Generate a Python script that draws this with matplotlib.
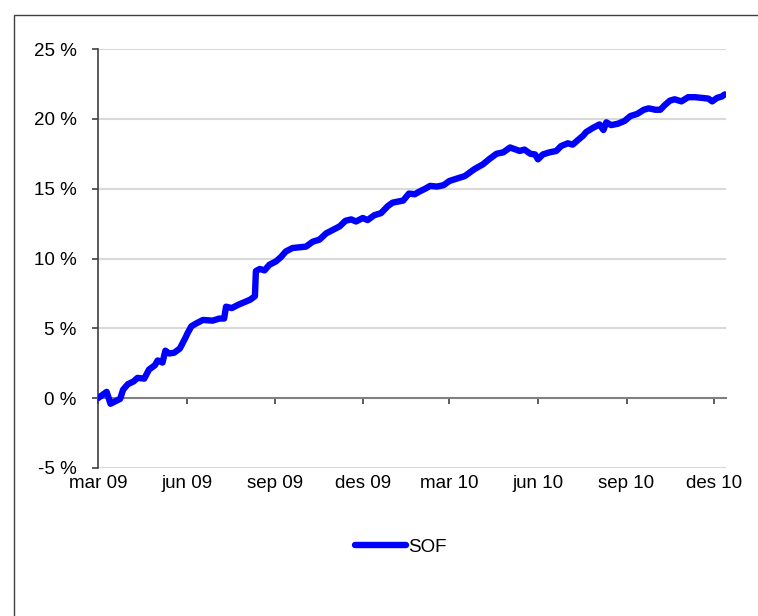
import pandas as pd
import matplotlib
matplotlib.use("Agg")
import matplotlib.pyplot as plt
from matplotlib.patches import Rectangle

plt.rcParams["font.family"] = ["Liberation Sans", "DejaVu Sans"]

# SOF cumulative return (%)
dates = [
    "2009-03-01", "2009-03-10", "2009-03-14", "2009-03-24", "2009-03-27", "2009-04-01",
    "2009-04-07", "2009-04-11", "2009-04-18", "2009-04-23", "2009-04-29", "2009-05-02",
    "2009-05-07", "2009-05-10", "2009-05-14", "2009-05-19", "2009-05-25", "2009-05-31",
    "2009-06-02", "2009-06-06", "2009-06-11", "2009-06-18", "2009-06-28", "2009-07-05",
    "2009-07-10", "2009-07-12", "2009-07-18", "2009-07-25", "2009-08-01", "2009-08-06",
    "2009-08-11", "2009-08-12", "2009-08-16", "2009-08-21", "2009-08-26", "2009-09-02",
    "2009-09-07", "2009-09-12", "2009-09-19", "2009-09-26", "2009-10-03", "2009-10-10",
    "2009-10-17", "2009-10-24", "2009-10-31", "2009-11-07", "2009-11-13", "2009-11-19",
    "2009-11-24", "2009-12-01", "2009-12-06", "2009-12-13", "2009-12-20", "2009-12-27",
    "2010-01-01", "2010-01-12", "2010-01-18", "2010-01-24", "2010-01-29", "2010-02-04",
    "2010-02-09", "2010-02-16", "2010-02-23", "2010-03-01", "2010-03-10", "2010-03-17",
    "2010-03-22", "2010-03-27", "2010-04-05", "2010-04-12", "2010-04-19", "2010-04-26",
    "2010-05-03", "2010-05-07", "2010-05-13", "2010-05-18", "2010-05-24", "2010-05-29",
    "2010-06-01", "2010-06-06", "2010-06-13", "2010-06-20", "2010-06-25", "2010-07-02",
    "2010-07-07", "2010-07-12", "2010-07-18", "2010-07-21", "2010-07-28", "2010-08-04",
    "2010-08-08", "2010-08-11", "2010-08-16", "2010-08-23", "2010-08-30", "2010-09-05",
    "2010-09-12", "2010-09-19", "2010-09-24", "2010-10-01", "2010-10-06", "2010-10-11",
    "2010-10-16", "2010-10-21", "2010-10-28", "2010-11-04", "2010-11-11", "2010-11-18",
    "2010-11-25", "2010-11-29", "2010-12-04", "2010-12-09", "2010-12-12",
]
sof = [
    0.0, 0.45, -0.4, -0.05, 0.6, 1.0,
    1.2, 1.45, 1.4, 2.05, 2.35, 2.7,
    2.55, 3.4, 3.2, 3.25, 3.55, 4.35,
    4.65, 5.15, 5.35, 5.6, 5.55, 5.7,
    5.7, 6.55, 6.45, 6.7, 6.9, 7.05,
    7.3, 9.1, 9.25, 9.15, 9.55, 9.8,
    10.1, 10.5, 10.75, 10.8, 10.85, 11.2,
    11.35, 11.8, 12.05, 12.3, 12.7, 12.8,
    12.65, 12.9, 12.75, 13.1, 13.25, 13.75,
    14.0, 14.15, 14.65, 14.6, 14.8, 15.0,
    15.2, 15.15, 15.25, 15.55, 15.75, 15.9,
    16.15, 16.4, 16.75, 17.15, 17.5, 17.6,
    17.95, 17.85, 17.7, 17.8, 17.5, 17.45,
    17.1, 17.45, 17.6, 17.7, 18.05, 18.25,
    18.15, 18.45, 18.8, 19.05, 19.35, 19.6,
    19.2, 19.75, 19.55, 19.65, 19.85, 20.2,
    20.35, 20.65, 20.75, 20.65, 20.65, 21.0,
    21.3, 21.4, 21.25, 21.55, 21.55, 21.5,
    21.45, 21.25, 21.5, 21.6, 21.75,
]

tick_dates = ["2009-03-01", "2009-06-01", "2009-09-01", "2009-12-01",
              "2010-03-01", "2010-06-01", "2010-09-01", "2010-12-01"]
tick_labels = ["mar 09", "jun 09", "sep 09", "des 09", "mar 10", "jun 10", "sep 10", "des 10"]
y_ticks = [-5, 0, 5, 10, 15, 20, 25]
y_labels = ["-5 %", "0 %", "5 %", "10 %", "15 %", "20 %", "25 %"]

x = pd.to_datetime(dates)
fs = 13.5

fig = plt.figure(figsize=(7.58, 6.16), dpi=100)
ax = fig.add_axes([98 / 758, 1 - 468 / 616, (725.7 - 98) / 758, (468 - 49) / 616])

for v in y_ticks:
    if v != 0:
        ax.axhline(v, color="#d9d9d9", lw=1.5, zorder=1)

ax.plot(x, sof, color="#0000ff", lw=4.6, solid_capstyle="round",
        solid_joinstyle="round", label="SOF", zorder=3)

ax.set_xlim(pd.Timestamp("2009-03-01"), pd.Timestamp("2010-12-13"))
ax.set_ylim(-5, 25)

ax.set_yticks(y_ticks)
ax.set_yticklabels(y_labels)
ax.set_xticks(pd.to_datetime(tick_dates))
ax.set_xticklabels(tick_labels)

for s in ["top", "right"]:
    ax.spines[s].set_visible(False)
ax.spines["bottom"].set_position(("data", 0))
ax.spines["bottom"].set_color("#808080")
ax.spines["bottom"].set_linewidth(1.5)
ax.spines["bottom"].set_zorder(2)
ax.spines["left"].set_color("#404040")
ax.spines["left"].set_linewidth(1.2)

ax.tick_params(axis="y", direction="out", length=4.5, width=1.2, color="#404040",
               pad=11, labelsize=fs)
ax.tick_params(axis="x", direction="out", length=4.5, width=1.2, color="#404040",
               pad=51, labelsize=fs)

fig.legend(loc="center", bbox_to_anchor=(0.529, 1 - 547 / 616), frameon=False,
           fontsize=fs, handlelength=2.7, handletextpad=0.1)

fig.patches.append(Rectangle((14 / 758, -0.1), 1.2, 1 - 15 / 616 + 0.1,
                             transform=fig.transFigure, fill=False,
                             ec="#404040", lw=1.0))

fig.savefig("out.png", dpi=100)
